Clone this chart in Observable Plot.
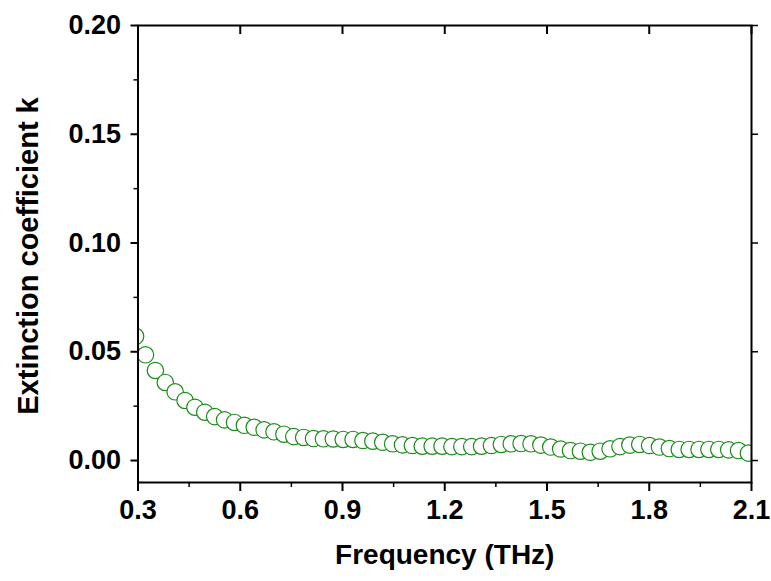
<!DOCTYPE html>
<html>
<head>
<meta charset="utf-8">
<script src="https://cdn.jsdelivr.net/npm/d3@7"></script>
<script src="https://cdn.jsdelivr.net/npm/@observablehq/plot@0.6"></script>
<style>
  html, body { margin: 0; padding: 0; background: #fff; }
  #chart { width: 771px; height: 581px; }
</style>
</head>
<body>
<div id="chart"></div>
<script>
const freq = [0.293, 0.322, 0.351, 0.380, 0.409, 0.438, 0.467, 0.496, 0.525, 0.554,
  0.583, 0.612, 0.641, 0.670, 0.699, 0.728, 0.757, 0.786, 0.815, 0.844,
  0.873, 0.902, 0.931, 0.960, 0.989, 1.018, 1.047, 1.076, 1.105, 1.134,
  1.163, 1.192, 1.221, 1.250, 1.279, 1.308, 1.337, 1.366, 1.395, 1.424,
  1.453, 1.482, 1.511, 1.540, 1.569, 1.598, 1.627, 1.656, 1.685, 1.714,
  1.743, 1.772, 1.801, 1.830, 1.859, 1.888, 1.917, 1.946, 1.975, 2.004,
  2.033, 2.062, 2.091];
const kValues = [0.0571, 0.0486, 0.0414, 0.0359, 0.0316, 0.0276, 0.0245, 0.0222, 0.0202, 0.0187,
  0.0175, 0.0162, 0.0153, 0.0141, 0.0132, 0.0121, 0.0110, 0.0106, 0.0101, 0.0100,
  0.0099, 0.0097, 0.0097, 0.0092, 0.0089, 0.0084, 0.0077, 0.0072, 0.0069, 0.0066,
  0.0066, 0.0066, 0.0064, 0.0064, 0.0064, 0.0066, 0.0069, 0.0074, 0.0077, 0.0078,
  0.0077, 0.0071, 0.0062, 0.0053, 0.0046, 0.0043, 0.0038, 0.0043, 0.0054, 0.0064,
  0.0071, 0.0074, 0.0069, 0.0062, 0.0055, 0.0051, 0.0051, 0.0051, 0.0051, 0.0051,
  0.0049, 0.0046, 0.0034];
const xTicks = [0.3, 0.6, 0.9, 1.2, 1.5, 1.8, 2.1];
const xMinorTicks = [0.45, 0.75, 1.05, 1.35, 1.65, 1.95];
const yTicks = [0, 0.05, 0.10, 0.15, 0.20];
const yMinorTicks = [0.025, 0.075, 0.125, 0.175];
const xLabel = "Frequency (THz)";
const yLabel = "Extinction coefficient k";

const data = freq.map((f, i) => ({f, k: kValues[i]}));
const font = "Liberation Sans, Arial, Helvetica, sans-serif";
const blank = () => "";

const chart = Plot.plot({
  width: 771,
  height: 581,
  marginLeft: 137.5,
  marginRight: 20,
  marginTop: 25,
  marginBottom: 99,
  style: {fontFamily: font, background: "#fff", color: "#000"},
  x: {domain: [0.3, 2.1]},
  y: {domain: [-0.0101, 0.20]},
  marks: [
    Plot.dot(data, {x: "f", y: "k", r: 8.2, stroke: "#1a8c1a", strokeWidth: 1.2, fill: "#fff", clip: true}),
    Plot.frame({stroke: "#000", strokeWidth: 2}),
    Plot.axisX({ticks: xTicks, tickSize: 9, tickPadding: 8, strokeWidth: 2,
      tickFormat: d => d.toFixed(1), fontSize: 27, fontWeight: "bold", fontFamily: font, label: null}),
    Plot.axisX({ticks: xMinorTicks, tickSize: 5, strokeWidth: 1.5, tickFormat: blank, label: null}),
    Plot.axisX({anchor: "top", ticks: xTicks, tickSize: 8, dy: 8, strokeWidth: 2, tickFormat: blank, label: null}),
    Plot.axisY({ticks: yTicks, tickSize: 7, tickPadding: 10, strokeWidth: 2,
      tickFormat: d => d.toFixed(2), fontSize: 27, fontWeight: "bold", fontFamily: font, label: null}),
    Plot.axisY({ticks: yMinorTicks, tickSize: 4, strokeWidth: 1.5, tickFormat: blank, label: null}),
    Plot.axisY({anchor: "right", ticks: yTicks, tickSize: 6, strokeWidth: 1.5, tickFormat: blank, label: null}),
    Plot.text([xLabel], {frameAnchor: "bottom", dy: 73, text: d => d, fontSize: 28, fontWeight: "bold", fontFamily: font, fill: "#000", textAnchor: "middle", lineAnchor: "middle"}),
    Plot.text([yLabel], {frameAnchor: "left", dx: -109, dy: 2, text: d => d, rotate: -90, fontSize: 29, fontWeight: "bold", fontFamily: font, fill: "#000", textAnchor: "middle", lineAnchor: "middle"})
  ]
});
document.getElementById("chart").appendChild(chart);
</script>
</body>
</html>
